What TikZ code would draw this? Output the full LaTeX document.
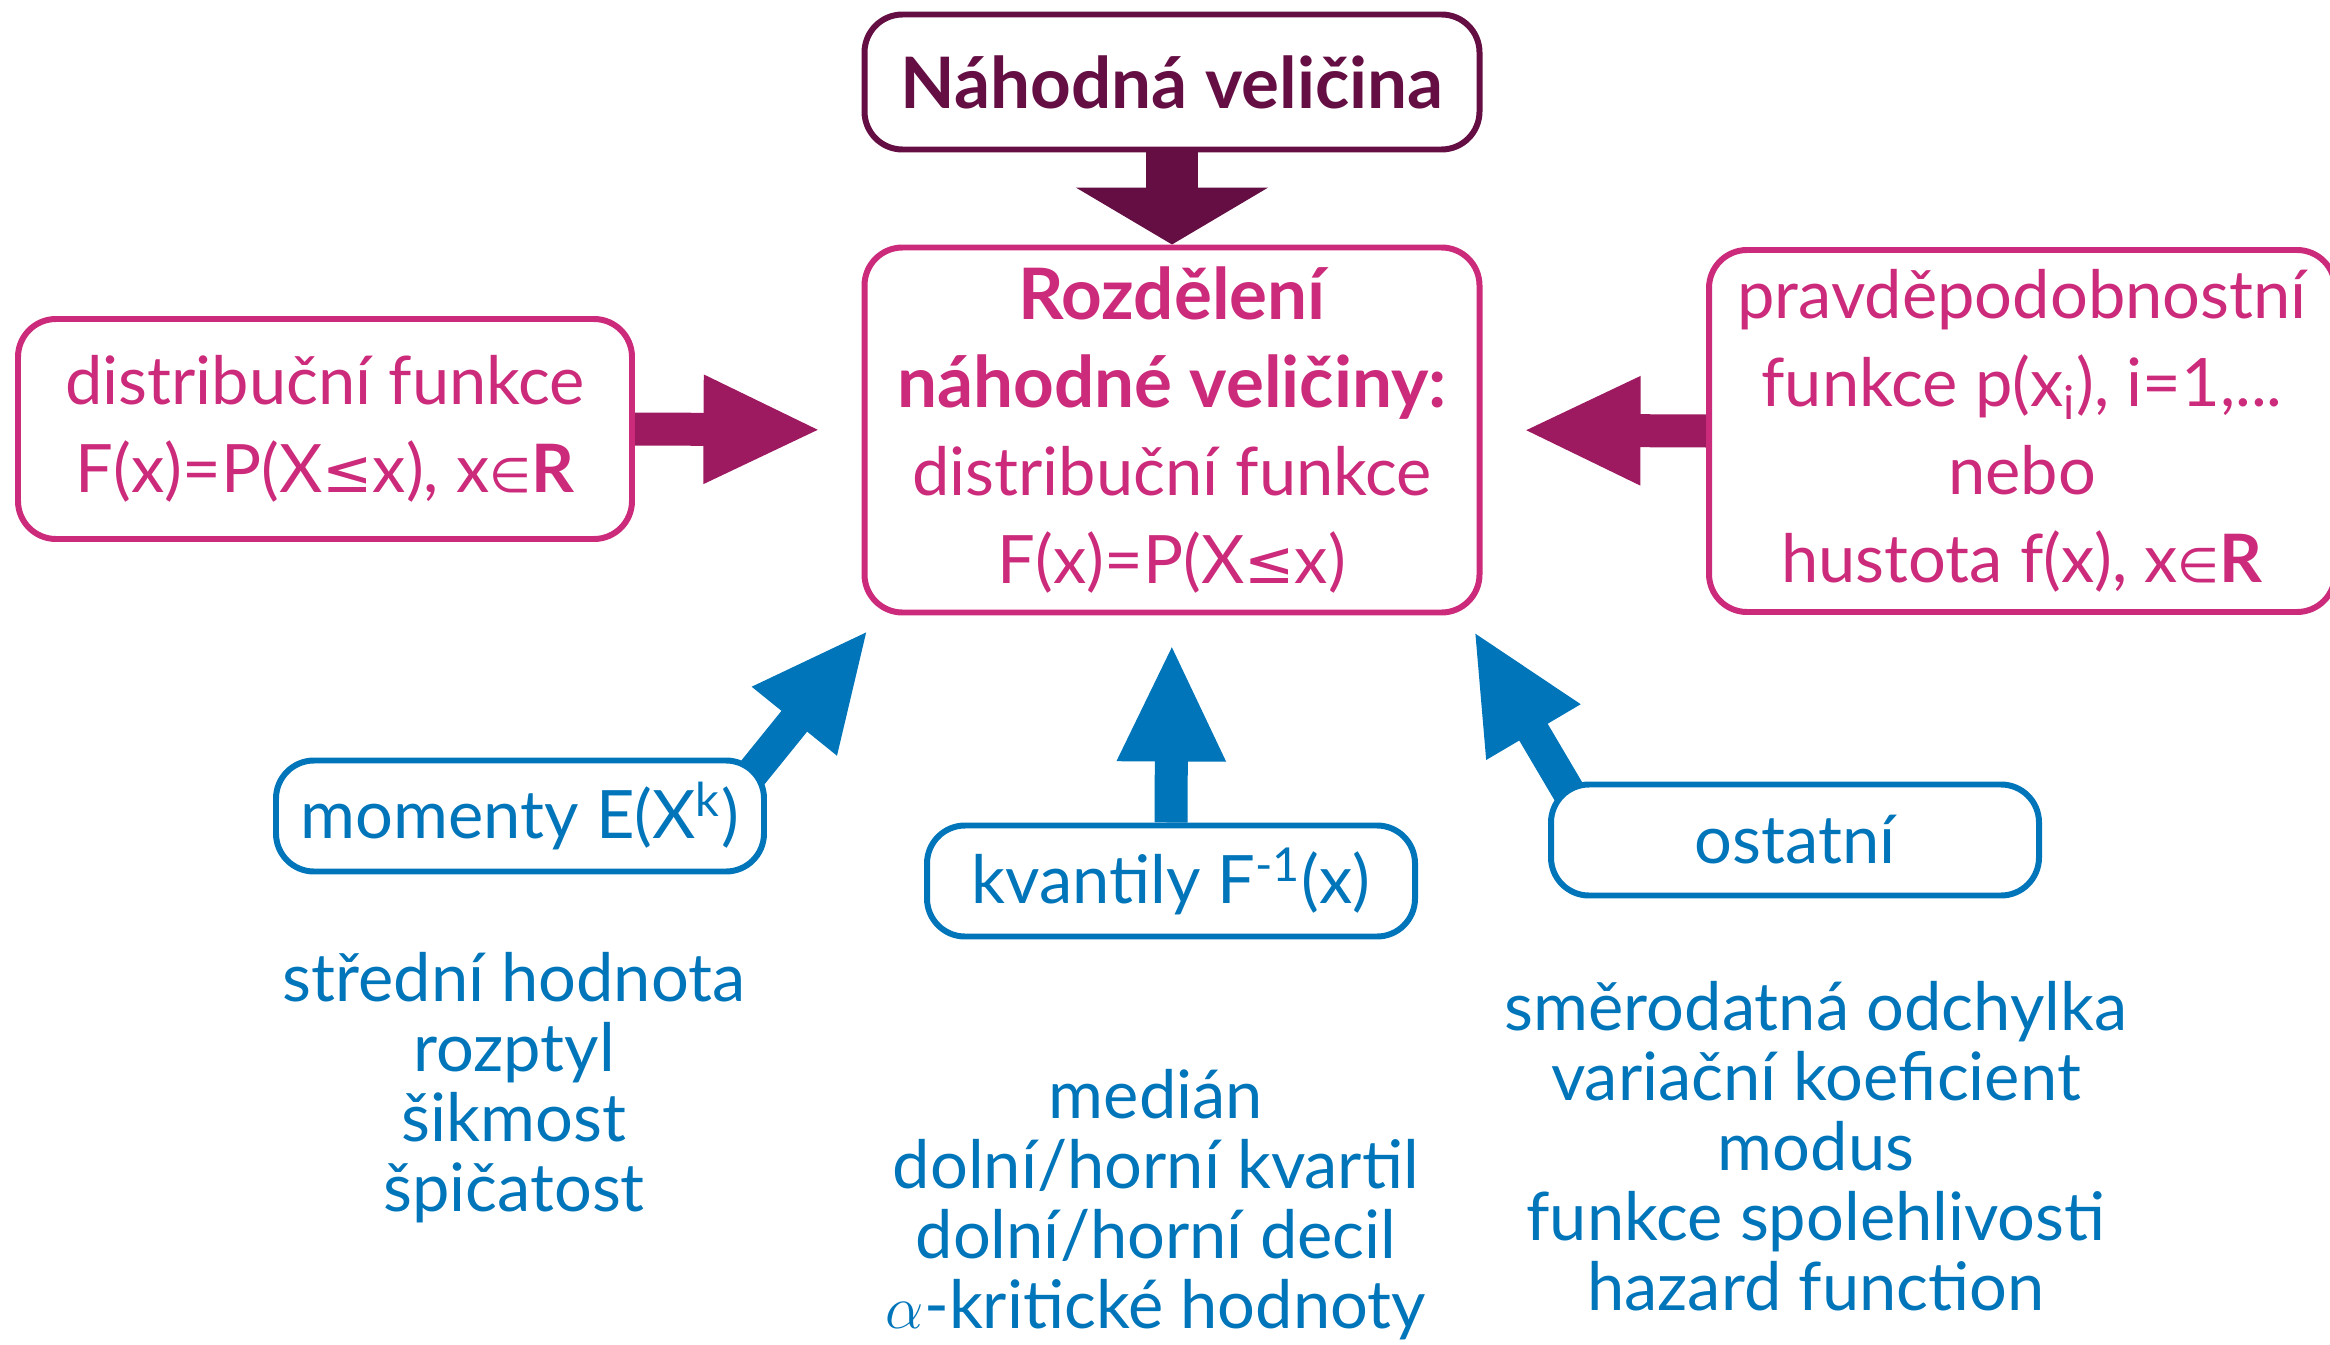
\documentclass[tikz,border=0pt]{standalone}
\usepackage{fontspec}
\setmainfont{Lato}
\newfontfamily\symb{DejaVu Sans}[Scale=0.9]
\newfontfamily\symbin{DejaVu Sans}[Scale=0.72]
\usepackage{tikz}
\usetikzlibrary{arrows.meta,%
  backgrounds%
}
\definecolor{rosa}{HTML}{CC2A7A}
\definecolor{rosatmava}{HTML}{9D1A60}
\definecolor{fialova}{HTML}{640E44}
\definecolor{modra}{HTML}{0075BA}
\newcommand{\tucne}[1]{{\fontsize{20.2}{25}\selectfont\bfseries #1}}

\begin{document}
\begin{tikzpicture}
  [
    every node/.style={align=center, inner sep=0pt},
    ramecek/.style={draw, line width=1.7pt, rounded corners=0.38cm, fill=white, font=\fontsize{19}{25}\selectfont},
    pinkbox/.style={ramecek, draw=rosa, text=rosa},
    bluebox/.style={ramecek, draw=modra, text=modra, minimum width=4.88cm, minimum height=1.11cm},
    seznam/.style={text=modra, font=\fontsize{19}{19.9}\selectfont},
    blockarrow/.style={line width=0.33cm, -{Triangle[length=1.18cm, width=1.0cm]}}
  ]

  % Rahmen
  \useasboundingbox (0,0) rectangle (23.30,13.44);

  \node[ramecek, draw=fialova, text=fialova, minimum width=6.15cm, minimum height=1.35cm] (nahodna) at (11.72,12.62) {\tucne{Náhodná veličina}};
  \node[pinkbox, minimum width=6.15cm, minimum height=3.65cm] (rozdeleni) at (11.72,9.14)
    {\tucne{Rozdělení}\\ \tucne{náhodné veličiny:}\\ distribuční funkce\\ F(x)=P(X{\symb ≤}x)};
  \node[pinkbox, minimum width=6.14cm, minimum height=2.20cm] (distrib) at (3.25,9.15)
    {distribuční funkce\\ F(x)=P(X{\symb ≤}x), x{\symbin ∈}\textbf{R}};
  \node[pinkbox, minimum width=6.26cm, minimum height=3.62cm] (pravd) at (20.22,9.13)
    {pravděpodobnostní\\ funkce p(x\textsubscript{i}), i=1,...\\ nebo\\ hustota f(x), x{\symbin ∈}\textbf{R}};

  \node[bluebox] (momenty) at (5.20,5.28) {momenty E(X\textsuperscript{k})};
  \node[bluebox] (kvantily) at (11.71,4.63) {kvantily F\textsuperscript{-1}(x)};
  \node[bluebox] (ostatni) at (17.95,5.04) {ostatní};

  % charakteristiky
  \node[seznam] (sezmom) at (5.14,2.56) {střední hodnota\\ rozptyl\\ šikmost\\ špičatost};
  \node[seznam] (sezkva) at (11.56,1.39) {medián\\ dolní/horní kvartil\\ dolní/horní decil\\ $\alpha$-kritické hodnoty};
  \node[seznam] (sezost) at (18.16,1.98) {směrodatná odchylka\\ variační koeficient\\ modus\\ funkce spolehlivosti\\ hazard function};

  \begin{scope}[on background layer]
    \draw[blockarrow, color=fialova, line width=0.52cm, -{Triangle[length=0.57cm, width=1.9cm]}] (nahodna.south) -- (rozdeleni.north);
    \draw[blockarrow, color=rosatmava, shorten >=0.40cm] (distrib.east) -- (rozdeleni.west);
    \draw[blockarrow, color=rosatmava, shorten >=0.40cm] (pravd.west) -- (rozdeleni.east);
    \draw[blockarrow, color=modra, shorten >=0.28cm] (kvantily.north) -- (rozdeleni.south);
    \draw[blockarrow, color=modra] ([shift={(-0.19,-0.21)}]momenty.north east) -- ([shift={(0.07,-0.14)}]rozdeleni.south west);
    \draw[blockarrow, color=modra] ([shift={(0.24,-0.16)}]ostatni.north west) -- ([shift={(-0.09,-0.15)}]rozdeleni.south east);
  \end{scope}
\end{tikzpicture}
\end{document}
